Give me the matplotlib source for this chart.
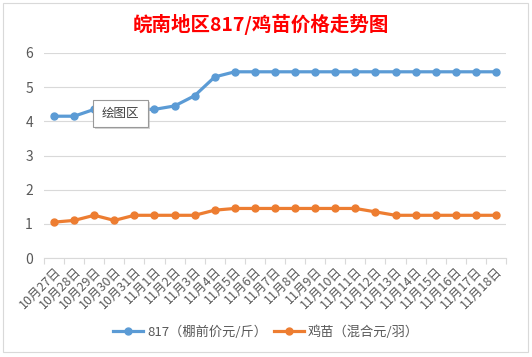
import matplotlib
matplotlib.use('Agg')
import matplotlib.pyplot as plt
from matplotlib.patches import Rectangle

plt.rcParams['font.family'] = ['Noto Sans CJK SC', 'DejaVu Sans']

labels = ['10月27日', '10月28日', '10月29日', '10月30日', '10月31日', '11月1日',
          '11月2日', '11月3日', '11月4日', '11月5日', '11月6日', '11月7日',
          '11月8日', '11月9日', '11月10日', '11月11日', '11月12日', '11月13日',
          '11月14日', '11月15日', '11月16日', '11月17日', '11月18日']
price_817 = [4.15, 4.15, 4.35, 4.35, 4.35, 4.35, 4.45, 4.75, 5.3, 5.45, 5.45, 5.45,
             5.45, 5.45, 5.45, 5.45, 5.45, 5.45, 5.45, 5.45, 5.45, 5.45, 5.45]
price_chick = [1.05, 1.1, 1.25, 1.1, 1.25, 1.25, 1.25, 1.25, 1.4, 1.45, 1.45, 1.45,
               1.45, 1.45, 1.45, 1.45, 1.35, 1.25, 1.25, 1.25, 1.25, 1.25, 1.25]
series_names = ['817（棚前价元/斤）', '鸡苗（混合元/羽）']
title = '皖南地区817/鸡苗价格走势图'

grey = '#D9D9D9'
txt = '#595959'

fig = plt.figure(figsize=(5.32, 3.57), dpi=100)
ax = fig.add_axes([44 / 532, 1 - 258 / 357, 462 / 532, 205 / 357])

x = list(range(len(labels)))
ax.plot(x, price_817, color='#5B9BD5', lw=2.3, marker='o', ms=5, label=series_names[0])
ax.plot(x, price_chick, color='#ED7D31', lw=2.3, marker='o', ms=5, label=series_names[1])

ax.set_xlim(-0.5, len(labels) - 0.5)
ax.set_ylim(0, 6)
ax.set_yticks(range(7))
ax.grid(axis='y', color=grey, lw=0.8)
ax.set_axisbelow(True)
for s in ['top', 'right', 'left']:
    ax.spines[s].set_visible(False)
ax.spines['bottom'].set_color(grey)
ax.spines['bottom'].set_linewidth(0.8)

ax.set_xticks(x)
ax.set_xticklabels(labels, rotation=45, ha='right', rotation_mode='anchor',
                   fontsize=9, color=txt)
ax.set_xticks([i - 0.5 for i in range(len(labels) + 1)], minor=True)
ax.tick_params(axis='x', which='major', length=0, pad=5)
ax.tick_params(axis='x', which='minor', length=4, color=grey, width=0.8)
ax.tick_params(axis='y', length=0, pad=8, labelsize=10, labelcolor=txt)

fig.text(0.49, 1 - 24 / 357, title, ha='center', va='center', fontsize=14,
         fontweight='bold', color='#FF0000')

leg = fig.legend(loc='center', bbox_to_anchor=(0.5, 1 - 332 / 357), ncol=2,
                 frameon=False, fontsize=9.5, handlelength=2.3, columnspacing=0.5,
                 handletextpad=0.3)
for t in leg.get_texts():
    t.set_color(txt)

# chart area border
fig.patches.append(Rectangle((3 / 532, 5 / 357), 525 / 532, 349 / 357, transform=fig.transFigure,
                             fill=False, edgecolor=grey, lw=0.8))

# "绘图区" tooltip
fig.patches.append(Rectangle((95 / 532, 1 - 129 / 357), 55 / 532, 27 / 357, transform=fig.transFigure,
                             facecolor='#BBBBBB', edgecolor='none', alpha=0.6, zorder=5))
fig.patches.append(Rectangle((93 / 532, 1 - 127 / 357), 55 / 532, 27 / 357, transform=fig.transFigure,
                             facecolor='white', edgecolor='#999999', lw=0.8, zorder=6))
fig.text(120.5 / 532, 1 - 113.5 / 357, '绘图区', ha='center', va='center', fontsize=9,
         color='#404040', zorder=7)

fig.savefig('out.png', dpi=100)
